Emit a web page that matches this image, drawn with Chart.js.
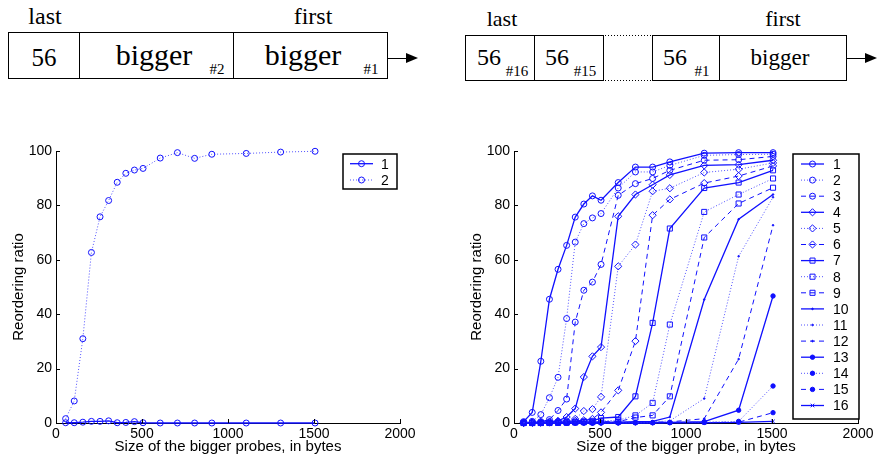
<!DOCTYPE html>
<html><head><meta charset="utf-8">
<script src="https://cdn.jsdelivr.net/npm/chart.js@4/dist/chart.umd.min.js"></script>
<style>
html,body{margin:0;padding:0;background:#fff;}
body{width:877px;height:458px;position:relative;overflow:hidden;font-family:"Liberation Serif","Times New Roman",serif;color:#000;}
.t{position:absolute;white-space:nowrap;transform:translate(-50%,-50%);line-height:1;}
.box{position:absolute;border:1px solid #000;box-sizing:border-box;}
.vl{position:absolute;width:1px;background:#000;}
.dl{position:absolute;height:1px;background:repeating-linear-gradient(to right,#000 0px,#000 1px,transparent 1px,transparent 3px);}
.arrow{position:absolute;height:1px;background:#000;}
.head{position:absolute;width:0;height:0;border-top:5px solid transparent;border-bottom:5px solid transparent;border-left:12px solid #000;}
canvas{position:absolute;}
</style></head>
<body>
<!-- left diagram -->
<div class="t" style="left:45px;top:16px;font-size:24px">last</div>
<div class="t" style="left:313px;top:16px;font-size:24px">first</div>
<div class="box" style="left:8px;top:32px;width:380px;height:47px"></div>
<div class="vl" style="left:79px;top:32px;height:47px"></div>
<div class="vl" style="left:233px;top:32px;height:47px"></div>
<div class="t" style="left:44px;top:57px;font-size:25px">56</div>
<div class="t" style="left:154px;top:55px;font-size:30px">bigger</div>
<div class="t" style="left:217px;top:69px;font-size:15px">#2</div>
<div class="t" style="left:303px;top:55px;font-size:30px">bigger</div>
<div class="t" style="left:371px;top:69px;font-size:15px">#1</div>
<div class="arrow" style="left:388px;top:58px;width:19px"></div>
<div class="head" style="left:406px;top:53px"></div>
<!-- right diagram -->
<div class="t" style="left:502px;top:19px;font-size:22px">last</div>
<div class="t" style="left:783px;top:19px;font-size:22px">first</div>
<div class="box" style="left:465px;top:35px;width:139px;height:46px"></div>
<div class="vl" style="left:534px;top:35px;height:46px"></div>
<div class="dl" style="left:605px;top:35px;width:47px"></div>
<div class="dl" style="left:605px;top:80px;width:47px"></div>
<div class="box" style="left:652px;top:35px;width:195px;height:46px"></div>
<div class="vl" style="left:719px;top:35px;height:46px"></div>
<div class="t" style="left:489px;top:57px;font-size:24px">56</div>
<div class="t" style="left:517px;top:71px;font-size:15px">#16</div>
<div class="t" style="left:557px;top:57px;font-size:24px">56</div>
<div class="t" style="left:585px;top:71px;font-size:15px">#15</div>
<div class="t" style="left:675px;top:57px;font-size:24px">56</div>
<div class="t" style="left:702px;top:71px;font-size:15px">#1</div>
<div class="t" style="left:780px;top:57px;font-size:23px">bigger</div>
<div class="arrow" style="left:847px;top:58px;width:19px"></div>
<div class="head" style="left:865px;top:53px"></div>

<canvas id="c1" width="430" height="328" style="left:0px;top:130px;width:430px;height:328px"></canvas>
<canvas id="c2" width="430" height="328" style="left:458px;top:130px;width:430px;height:328px"></canvas>

<script>
// ---- data ----
const sizes = [56,106,156,206,256,306,356,406,456,506,606,706,806,906,1106,1306,1506];
const xTicks = [0,500,1000,1500,2000];
const yTicks = [0,20,40,60,80,100];

const left1 = [0.1,0.1,0.3,0.6,0.6,0.8,0.1,0.2,0.5,0.1,0,0,0,0,0,0,0];
const left2 = [1.6,8.1,31,62.7,75.8,81.8,88.5,91.8,93,93.6,97.4,99.4,97.3,98.8,99.1,99.6,99.9];

const r1  = [0.5,3.9,22.7,45.5,56.5,65.3,75.7,80.5,83.5,81.9,88.4,94.1,94.1,96,99.2,99.4,99.4];
const r2  = [0.2,0.6,3.1,9.3,16.8,38.4,66.5,73.3,75.4,77,86.4,92.3,92.3,94.7,98.4,98.7,98.8];
const r3  = [0.1,0.2,0.5,1.25,4.6,8.8,37.1,48.8,51.8,58.3,83.7,88,89.9,92.9,96.6,96.8,98];
const r4  = [0.1,0.2,0.3,0.5,0.8,2.2,5.3,16.9,24.5,27.9,76,84,87.6,91.2,94.7,95,96.6];
const r5  = [0,0.1,0.2,0.3,0.5,0.8,1.5,4.4,5.1,9.6,57.6,65.6,85.2,86.3,92.1,93.3,95.6];
const r6  = [0,0.1,0.1,0.2,0.3,0.5,0.8,1,1.5,3.9,12,30.1,76.4,82.2,88.2,90.8,94.5];
const r7  = [0,0,0.1,0.1,0.2,0.3,0.5,0.6,0.8,1.8,2.2,9.8,36.8,71.5,86.4,88.4,92.9];
const r8  = [0,0,0,0.1,0.1,0.2,0.3,0.4,0.5,0.8,1,2.8,7.4,36.2,77.6,84,89.9];
const r9  = [0,0,0,0,0.1,0.1,0.2,0.3,0.3,0.5,0.5,2,2.8,9.8,68.2,80.7,86.5];
const r10 = [0,0,0,0,0,0.1,0.1,0.1,0.2,0.3,0.3,0.5,0.6,2.2,45.4,74.9,84];
const r11 = [0,0,0,0,0,0,0.1,0.1,0.1,0.2,0.2,0.3,0.4,0.8,9,61.3,83];
const r12 = [0,0,0,0,0,0,0,0.1,0.1,0.1,0.2,0.2,0.3,0.4,1.6,23.5,72.7];
const r13 = [0,0,0,0,0,0,0,0,0,0.1,0.1,0.1,0.2,0.2,0.5,4.7,46.7];
const r14 = [0,0,0,0,0,0,0,0,0,0,0.1,0.1,0.1,0.2,0.3,0.6,13.6];
const r15 = [0,0,0,0,0,0,0,0,0,0,0,0.1,0.1,0.1,0.2,0.3,3.8];
const r16 = [0,0,0,0,0,0,0,0,0,0,0,0,0,0.1,0.1,0.2,0.6];

const leftSeries = [left1, left2];
const leftLabels = ['1','2'];
const rightSeries = [r1,r2,r3,r4,r5,r6,r7,r8,r9,r10,r11,r12,r13,r14,r15,r16];
const rightLabels = ['1','2','3','4','5','6','7','8','9','10','11','12','13','14','15','16'];

// ---- styles ----
const BLUE = '#1010ff';
const DOT_BLUE = '#5050ff';
const SANS = '"Liberation Sans", Arial, Helvetica, sans-serif';
const lineKinds = ['solid','dotted','dashed'];
function dashFor(k){ return k==='dotted' ? [1,2] : k==='dashed' ? [5,4] : []; }

function styleFor(i, total) {
  let kind = lineKinds[i % 3];
  let ps = 'circle', r = 3, fill = 'rgba(0,0,0,0)';
  if (total === 16) {
    if (i < 3) { ps = 'circle'; r = 3; }
    else if (i < 6) { ps = 'rectRot'; r = 3.6; }
    else if (i < 9) { ps = 'rect'; r = 3.6; }
    else if (i < 12) { ps = 'circle'; r = 0.8; fill = BLUE; }
    else if (i < 15) { ps = 'circle'; r = 2.2; fill = BLUE; }
    else { ps = 'crossRot'; r = 2.5; kind = 'solid'; }
  }
  return {
    borderColor: kind === 'dotted' ? DOT_BLUE : BLUE,
    borderWidth: kind === 'solid' ? 1.3 : 1,
    borderDash: dashFor(kind),
    pointStyle: ps, pointRadius: r, pointBorderWidth: 1,
    pointBorderColor: BLUE, pointBackgroundColor: fill,
  };
}

function buildDatasets(series, labels) {
  return series.map((vals, i) => Object.assign({
    label: labels[i],
    data: sizes.map((x, j) => ({x: x, y: vals[j]})),
    clip: false, tension: 0, fill: false,
  }, styleFor(i, series.length)));
}

const inwardTicks = {
  id: 'inwardTicks',
  afterDraw(chart) {
    const {ctx, chartArea: a, scales: {x, y}} = chart;
    ctx.save();
    ctx.strokeStyle = '#000'; ctx.lineWidth = 1; ctx.setLineDash([]);
    ctx.beginPath();
    x.ticks.forEach(t => { const px = Math.round(x.getPixelForValue(t.value)) + 0.5; ctx.moveTo(px, a.bottom); ctx.lineTo(px, a.bottom - 4); });
    y.ticks.forEach(t => { const py = Math.round(y.getPixelForValue(t.value)) + 0.5; ctx.moveTo(a.left, py); ctx.lineTo(a.left + 4, py); });
    ctx.stroke();
    ctx.restore();
  }
};

const mLegend = {
  id: 'mLegend',
  afterDraw(chart, args, o) {
    const ctx = chart.ctx;
    ctx.save();
    ctx.fillStyle = '#fff';
    ctx.fillRect(o.x, o.y, o.w, o.h);
    ctx.strokeStyle = '#000'; ctx.lineWidth = 1.5; ctx.setLineDash([]);
    ctx.strokeRect(o.x, o.y, o.w, o.h);
    ctx.font = '14px ' + SANS;
    ctx.textBaseline = 'middle'; ctx.textAlign = 'left';
    chart.data.datasets.forEach((ds, i) => {
      const cy = o.y + o.first + i * o.row;
      ctx.strokeStyle = ds.borderColor; ctx.lineWidth = ds.borderWidth;
      ctx.setLineDash(ds.borderDash);
      ctx.beginPath(); ctx.moveTo(o.x + o.l0, cy); ctx.lineTo(o.x + o.l1, cy); ctx.stroke();
      ctx.setLineDash([]);
      ctx.strokeStyle = ds.pointBorderColor; ctx.fillStyle = ds.pointBackgroundColor; ctx.lineWidth = 1;
      Chart.helpers.drawPoint(ctx, {pointStyle: ds.pointStyle, radius: ds.pointRadius, borderWidth: 1, rotation: 0}, o.x + (o.l0 + o.l1) / 2, cy);
      ctx.fillStyle = '#000';
      ctx.fillText(ds.label, o.x + o.tx, cy + 1);
    });
    ctx.restore();
  }
};

function makeChart(id, datasets, xTitle, legendOpts) {
  return new Chart(document.getElementById(id), {
    type: 'line',
    data: { datasets },
    options: {
      responsive: false, animation: false, devicePixelRatio: 1,
      layout: { padding: { top: 21, right: 30, left: 0, bottom: 0 } },
      plugins: { legend: { display: false }, tooltip: { enabled: false }, mLegend: legendOpts },
      scales: {
        x: {
          type: 'linear', min: 0, max: 2000,
          afterBuildTicks: s => { s.ticks = xTicks.map(v => ({value: v})); },
          afterFit: s => { s.height = 35; },
          grid: { display: false, drawTicks: false },
          border: { display: true, color: '#000', width: 1 },
          ticks: { color: '#000', font: { size: 14, family: SANS }, padding: 3, maxRotation: 0, autoSkip: false, callback: v => String(v) },
          title: { display: true, text: xTitle, color: '#000', font: { size: 15, family: SANS }, padding: { top: 0, bottom: 2 } }
        },
        y: {
          min: 0, max: 100,
          afterBuildTicks: s => { s.ticks = yTicks.map(v => ({value: v})); },
          afterFit: s => { s.width = 56; },
          grid: { display: false, drawTicks: false },
          border: { display: true, color: '#000', width: 1 },
          ticks: { color: '#000', font: { size: 14, family: SANS }, padding: 4, callback: v => String(v) },
          title: { display: true, text: 'Reordering ratio', color: '#000', font: { size: 15, family: SANS }, padding: { top: 10, bottom: 0 } }
        }
      }
    },
    plugins: [inwardTicks, mLegend]
  });
}

makeChart('c1', buildDatasets(leftSeries, leftLabels), 'Size of the bigger probes, in bytes',
  { x: 343, y: 24, w: 54, h: 35, first: 9.7, row: 16.3, l0: 7, l1: 30, tx: 38 });
makeChart('c2', buildDatasets(rightSeries, rightLabels), 'Size of the bigger probe, in bytes',
  { x: 335, y: 24, w: 66, h: 265, first: 10, row: 16.1, l0: 8, l1: 31, tx: 40 });
</script>
</body></html>
